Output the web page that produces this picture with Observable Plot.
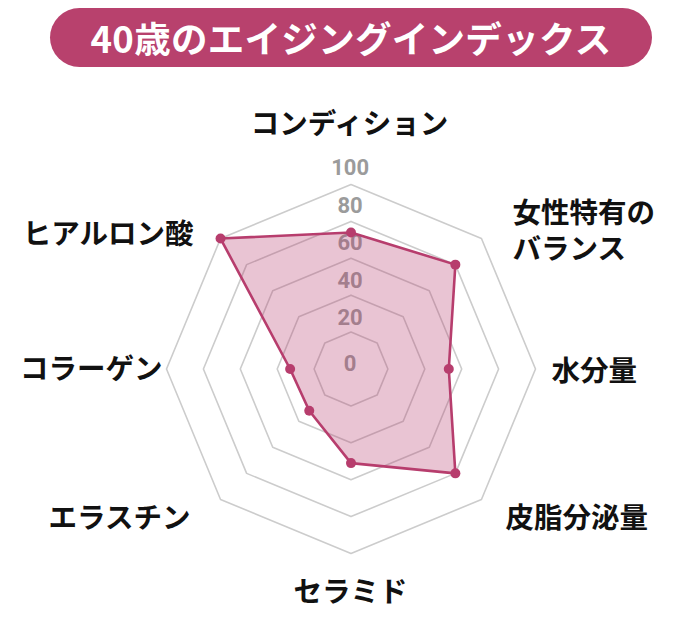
<!DOCTYPE html>
<html>
<head>
<meta charset="utf-8">
<script src="https://cdn.jsdelivr.net/npm/d3@7"></script>
<script src="https://cdn.jsdelivr.net/npm/@observablehq/plot@0.6"></script>
<style>
  html, body { margin: 0; padding: 0; background: #fff; }
  body { width: 700px; height: 631px; overflow: hidden; font-family: "Noto Sans CJK JP", "Noto Sans", sans-serif; }
  #title-wrap { height: 76px; position: relative; }
  #title {
    position: absolute; left: 50px; top: 8px; width: 602px; height: 59px;
    border-radius: 30px; background: #b8416d; color: #fff;
    font-weight: 700; font-size: 36.5px; line-height: 59px; text-align: center;
    letter-spacing: 0.3px;
  }
  #chart svg { display: block; }
</style>
</head>
<body>
<div id="title-wrap"><div id="title">40歳のエイジングインデックス</div></div>
<div id="chart"></div>
<script>
// ---- data ----
const categories = ["コンディション", "女性特有の\nバランス", "水分量", "皮脂分泌量", "セラミド", "エラスチン", "コラーゲン", "ヒアルロン酸"];
const values = [74, 80, 53, 80, 51, 32, 33, 100];
const ringValues = [20, 40, 60, 80, 100];
const tickLabels = [0, 20, 40, 60, 80, 100];

// ---- layout ----
const W = 700, H = 555;
const cx = 350.5, cy = 292.5;      // center in svg px
const k = 1.845;                   // px per value unit
const n = categories.length;
const angle = i => (i / n) * 2 * Math.PI;
const px = (i, v) => v * Math.sin(angle(i));
const py = (i, v) => v * Math.cos(angle(i));

// label offsets (px from center) and anchors
const labelLayout = [
  [-1.5, -246.5, "middle"],
  [161.5, -139.5, "start"],
  [200.5, 0.5, "start"],
  [154.5, 147.5, "start"],
  [-0.5, 221.5, "middle"],
  [-160.5, 147.5, "end"],
  [-188.5, -1.5, "end"],
  [-157.5, -136.5, "end"]
];

const gridPts = ringValues.flatMap(r =>
  d3.range(n + 1).map(j => ({ring: r, x: px(j % n, r), y: py(j % n, r)})));
const polyPts = d3.range(n + 1).map(j => ({x: px(j % n, values[j % n]), y: py(j % n, values[j % n])}));
const dotPts = values.map((v, i) => ({x: px(i, v), y: py(i, v)}));
const tickPts = tickLabels.map(v => ({label: String(v), x: -0.5, y: v === 0 ? 3 : v * 1.02 + 7}));
const catPts = categories.map((c, i) => ({
  label: c,
  x: labelLayout[i][0] / k,
  y: -labelLayout[i][1] / k,
  anchor: labelLayout[i][2]
}));

const accent = "#b73d6d";

const chart = Plot.plot({
  width: W, height: H,
  margin: 0,
  x: {domain: [-cx / k, (W - cx) / k], axis: null},
  y: {domain: [-(H - cy) / k, cy / k], axis: null},
  style: {fontFamily: "'Noto Sans CJK JP', sans-serif", background: "#fff"},
  marks: [
    Plot.line(gridPts, {x: "x", y: "y", z: "ring", stroke: "#cccccc", strokeWidth: 1.6, curve: "linear"}),
    Plot.text(tickPts, {x: "x", y: "y", text: "label", fill: "#9b9b9b", fontSize: 22, fontWeight: 700,
      fontFamily: "Roboto, 'Noto Sans', sans-serif"}),
    Plot.line(polyPts, {x: "x", y: "y", fill: accent, fillOpacity: 0.3, stroke: "none", curve: "linear"}),
    Plot.line(polyPts, {x: "x", y: "y", stroke: accent, strokeWidth: 2.6, curve: "linear"}),
    Plot.dot(dotPts, {x: "x", y: "y", r: 5, fill: accent, stroke: "none"}),
    ...["start", "middle", "end"].map(a =>
      Plot.text(catPts.filter(d => d.anchor === a), {
        x: "x", y: "y", text: "label", textAnchor: a, fill: "#111",
        fontSize: 28.5, fontWeight: 700, lineHeight: 1.25
      }))
  ]
});
document.getElementById("chart").appendChild(chart);
</script>
</body>
</html>
